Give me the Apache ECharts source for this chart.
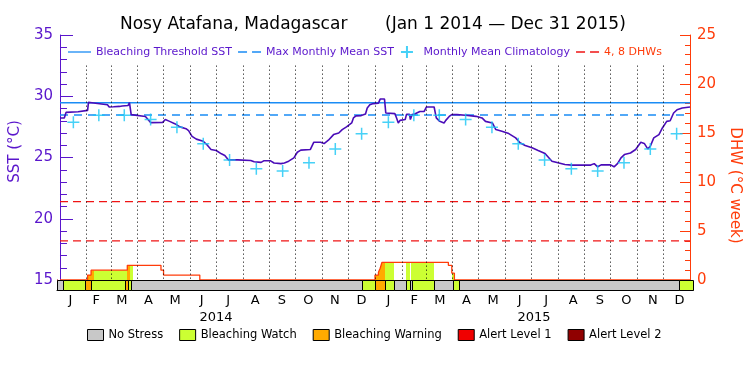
<!DOCTYPE html>
<html>
<head>
<meta charset="utf-8">
<title>Nosy Atafana, Madagascar</title>
<script src="https://cdn.jsdelivr.net/npm/echarts@6/dist/echarts.min.js"></script>
<style>
html, body { margin: 0; padding: 0; background: #fff; }
#main { width: 750px; height: 375px; }
</style>
</head>
<body>
<div id="main"></div>
<script>
// x values are days counted from Jan 1 2014 (day 0) to Dec 31 2015 (day 730)
var monthLetters = ['J', 'F', 'M', 'A', 'M', 'J', 'J', 'A', 'S', 'O', 'N', 'D'];
var monthStarts = [0, 31, 59, 90, 120, 151, 181, 212, 243, 273, 304, 334,
                   365, 396, 424, 455, 485, 516, 546, 577, 608, 638, 669, 699, 730];
var yearLabels = ['2014', '2015'];
var yearCenters = [182.5, 547.5];

// daily SST
var sstDays = [0, 5, 7, 9, 21, 23, 32, 33, 39, 40, 55, 57, 62, 69, 72, 79, 80.5, 82.5, 84, 99,
  101, 105, 107, 119, 122, 127, 133, 139, 146, 149, 153, 158, 166, 170, 175, 181, 187, 191, 195, 206,
  221, 225, 233, 236, 244, 248, 256, 260, 265, 271, 275, 279, 290, 294, 302, 306, 311, 317, 323, 327,
  332, 338, 340, 343, 349, 351, 354, 356, 359, 363, 369, 371, 376, 377.5, 388, 390, 392, 394, 400, 401.5,
  405, 406, 408, 411, 413, 417, 422, 424.5, 433.5, 436, 440, 445, 447, 451, 454, 460, 462, 470, 482, 489,
  493, 501, 505, 512, 520, 528, 533, 539, 547, 554, 562, 570, 577, 585, 593, 615, 619, 623, 627, 638,
  642, 646, 650, 654, 661, 667, 673, 677, 681, 684, 688, 694, 698, 703, 707, 711, 715, 721, 730];
var sstValues = [28.23, 28.23, 28.68, 28.74, 28.74, 28.85, 28.85, 29.50, 29.45, 29.30, 29.30, 29.12, 29.14, 29.17, 29.20, 29.25, 29.48, 28.50, 28.40, 28.35,
  28.23, 27.85, 27.87, 27.87, 28.10, 27.95, 27.76, 27.50, 27.35, 27.20, 26.73, 26.50, 26.33, 26.06, 25.65, 25.57, 25.30, 25.16, 24.81, 24.81,
  24.76, 24.65, 24.60, 24.73, 24.73, 24.55, 24.50, 24.55, 24.70, 24.97, 25.43, 25.60, 25.65, 26.24, 26.24, 26.14, 26.41, 26.87, 27.00, 27.28,
  27.50, 27.82, 28.23, 28.40, 28.42, 28.55, 28.55, 29.04, 29.30, 29.40, 29.44, 29.77, 29.77, 28.63, 28.58, 28.23, 27.82, 28.03, 28.10, 28.52,
  28.52, 28.10, 28.50, 28.55, 28.60, 28.76, 28.76, 29.12, 29.12, 28.23, 27.95, 27.82, 28.03, 28.35, 28.50, 28.50, 28.40, 28.45, 28.36, 28.23,
  27.95, 27.82, 27.28, 27.14, 26.95, 26.60, 26.20, 25.98, 25.79, 25.57, 25.33, 24.70, 24.57, 24.43, 24.38, 24.38, 24.50, 24.24, 24.40, 24.40,
  24.24, 24.50, 24.97, 25.24, 25.37, 25.65, 26.24, 26.15, 25.70, 25.92, 26.60, 26.87, 27.41, 27.95, 28.00, 28.63, 28.90, 29.04, 29.12];

// monthly mean climatology, Jan..Dec
var climatology = [27.87, 28.44, 28.44, 28.10, 27.46, 26.12, 24.80, 24.08, 23.89, 24.57, 25.70, 26.94];
var mmm = 28.47;
var threshold = 29.47;
var dhwLevels = [4, 8];

// degree heating weeks, each value holds until the next day listed
var dhwDays = [0, 32, 36, 78, 117, 120, 162, 365, 369, 371, 373, 450, 454, 457, 730];
var dhwValues = [0, 0.5, 1.0, 1.5, 1.0, 0.5, 0, 0.5, 0.8, 1.2, 1.8, 1.5, 0.7, 0, 0];

var stressNames = ['No Stress', 'Bleaching Watch', 'Bleaching Warning', 'Alert Level 1', 'Alert Level 2'];
var stressColors = ['#c8c8c8', '#ccff33', '#ffaa00', '#f00000', '#900000'];
var stressStart = [0, 7, 32, 39, 78, 81, 85, 350, 365, 377, 387, 401, 405, 407, 433, 454, 461, 714];
var stressEnd   = [7, 32, 39, 78, 81, 85, 350, 365, 377, 387, 401, 405, 407, 433, 454, 461, 714, 730];
var stressLevel = [0, 1, 2, 1, 2, 1, 0, 1, 2, 1, 0, 1, 0, 1, 0, 1, 0, 1];

var purple = '#5a16cc';
var orange = '#ff3c0a';
var dhwRed = '#f01414';
var font = 'DejaVu Sans';
// legend icons: plain line and two dashes
var solidIcon = 'path://M0,0H23V1.3H0Z';
var dashIcon = 'path://M0,0H9V1.3H0ZM14,0H23V1.3H14Z';

var sstData = sstDays.map(function (d, i) { return [d, sstValues[i]]; });
var dhwData = dhwDays.map(function (d, i) { return [d, dhwValues[i]]; });
var climData = [];
var monthMids = [];
for (var i = 0; i < 24; i++) {
    var mid = (monthStarts[i] + monthStarts[i + 1]) / 2;
    monthMids.push(mid);
    climData.push([mid, climatology[i % 12]]);
}
// 4 and 8 DHW reference lines, broken between them
var dhwLevelData = [];
dhwLevels.forEach(function (v, k) {
    if (k > 0) dhwLevelData.push([365, '-']);
    dhwLevelData.push([0, v], [730, v]);
});
var stressData = stressNames.map(function () { return []; });
stressStart.forEach(function (s, i) {
    stressData[stressLevel[i]].push([s, stressEnd[i]]);
});
// colour under the DHW curve follows the stress level (white when no stress)
var fillPieces = stressStart.map(function (s, i) {
    var lv = stressLevel[i];
    return { gte: s, lt: i === stressStart.length - 1 ? 731 : stressEnd[i],
             color: lv === 0 ? 'rgba(255,255,255,0)' : stressColors[lv] };
});
var monthLines = monthStarts.slice(1, 24).map(function (d) {
    return [{ coord: [d, 32.5] }, { coord: [d, 15] }];
});

function renderStress(params, api) {
    var p0 = api.coord([api.value(0), 1]);
    var p1 = api.coord([api.value(1), 0]);
    var x0 = Math.round(p0[0]) + 0.5, x1 = Math.round(p1[0]) + 0.5;
    var y0 = Math.round(p0[1]) + 0.5, y1 = Math.round(p1[1]) + 0.5;
    return {
        type: 'rect',
        shape: { x: x0, y: y0, width: x1 - x0, height: y1 - y0 },
        style: { fill: api.visual('color'), stroke: '#000', lineWidth: 1 }
    };
}

var myChart = echarts.init(document.getElementById('main'));
var stressSeries = stressNames.map(function (name, k) {
    return {
        name: name,
        type: 'custom',
        xAxisIndex: 1,
        yAxisIndex: 2,
        renderItem: renderStress,
        encode: { x: [0, 1] },
        itemStyle: { color: stressColors[k] },
        z: 6,
        silent: true,
        data: stressData[k]
    };
});

myChart.setOption({
    animation: false,
    backgroundColor: '#fff',
    textStyle: { fontFamily: font },
    title: [
        { text: 'Nosy Atafana, Madagascar', left: 115, top: 11,
          textStyle: { fontSize: 17, fontWeight: 'normal', color: '#000' } },
        { text: '(Jan 1 2014 \u2014 Dec 31 2015)', left: 380, top: 11,
          textStyle: { fontSize: 17, fontWeight: 'normal', color: '#000' } }
    ],
    legend: [
        {
            left: 68, top: 45, padding: 0,
            itemGap: 6, itemWidth: 23, itemHeight: 12,
            selectedMode: false,
            textStyle: { color: purple, fontSize: 11 },
            data: [
                { name: 'Bleaching Threshold SST', icon: solidIcon },
                { name: 'Max Monthly Mean SST', icon: dashIcon },
                { name: 'Monthly Mean Climatology' },
                { name: '4, 8 DHWs', icon: dashIcon, textStyle: { color: orange } }
            ]
        },
        {
            left: 87, top: 329, padding: 0,
            itemGap: 16, itemWidth: 16, itemHeight: 11,
            icon: 'rect',
            selectedMode: false,
            itemStyle: { borderColor: '#000', borderWidth: 1 },
            textStyle: { color: '#000', fontSize: 11.5 },
            data: stressNames
        }
    ],
    visualMap: {
        type: 'piecewise',
        show: false,
        seriesIndex: 4,
        dimension: 0,
        pieces: fillPieces,
        outOfRange: { color: 'rgba(255,255,255,0)' }
    },
    grid: [
        { left: 57, right: 57, top: 35, height: 245 },
        { left: 57, right: 57, top: 280, height: 10 }
    ],
    xAxis: [
        {
            gridIndex: 0, type: 'value', min: 0, max: 730, position: 'top',
            axisLine: { lineStyle: { color: '#000', width: 1 } },
            axisTick: { show: false }, axisLabel: { show: false }, splitLine: { show: false }
        },
        {
            gridIndex: 1, type: 'value', min: 0, max: 730, position: 'bottom',
            axisLine: { lineStyle: { color: '#000', width: 1 } },
            axisTick: { show: false }, splitLine: { show: false },
            axisLabel: {
                customValues: monthMids,
                margin: 4,
                color: '#000', fontSize: 13,
                formatter: function (v) {
                    var idx = monthMids.indexOf(v);
                    return monthLetters[idx % 12];
                }
            }
        },
        {
            gridIndex: 1, type: 'value', min: 0, max: 730, position: 'bottom', offset: 17,
            axisLine: { show: false }, axisTick: { show: false }, splitLine: { show: false },
            axisLabel: {
                customValues: yearCenters,
                margin: 4,
                color: '#000', fontSize: 13,
                formatter: function (v) { return yearLabels[yearCenters.indexOf(v)]; }
            }
        }
    ],
    yAxis: [
        {
            gridIndex: 0, type: 'value', min: 15, max: 35, interval: 5, position: 'left',
            name: 'SST (\u00b0C)', nameLocation: 'middle', nameGap: 32,
            nameTextStyle: { color: purple, fontSize: 15, padding: [0, 0, 0, 12] },
            axisLine: { show: true, lineStyle: { color: purple, width: 1 } },
            axisTick: { show: true, inside: true, length: 13, lineStyle: { color: purple } },
            minorTick: { show: true, splitNumber: 5, length: 7, lineStyle: { color: purple } },
            axisLabel: { color: purple, fontSize: 15, margin: 7 },
            splitLine: { show: false }
        },
        {
            gridIndex: 0, type: 'value', min: 0, max: 25, interval: 5, position: 'right',
            name: 'DHW (\u00b0C week)', nameLocation: 'middle', nameGap: 32, nameRotate: -90,
            nameTextStyle: { color: orange, fontSize: 15, padding: [0, 0, 0, 56] },
            axisLine: { show: true, lineStyle: { color: orange, width: 1 } },
            axisTick: { show: true, inside: true, length: 10, lineStyle: { color: orange } },
            minorTick: { show: true, splitNumber: 5, length: 5, lineStyle: { color: orange } },
            axisLabel: { color: orange, fontSize: 15, margin: 7 },
            splitLine: { show: false }
        },
        {
            gridIndex: 1, type: 'value', min: 0, max: 1, position: 'left',
            axisLine: { show: true, lineStyle: { color: purple, width: 1 } },
            axisTick: { show: false }, axisLabel: { show: false }, splitLine: { show: false }
        },
        {
            gridIndex: 1, type: 'value', min: 0, max: 1, position: 'right',
            axisLine: { show: true, lineStyle: { color: orange, width: 1 } },
            axisTick: { show: false }, axisLabel: { show: false }, splitLine: { show: false }
        }
    ],
    series: [
        {
            name: 'Bleaching Threshold SST', type: 'line', symbol: 'none', z: 2,
            color: '#1a8cf5',
            lineStyle: { color: '#1a8cf5', width: 1.3 },
            data: [[0, threshold], [730, threshold]]
        },
        {
            name: 'Max Monthly Mean SST', type: 'line', symbol: 'none', z: 2,
            color: '#1a8cf5',
            lineStyle: { color: '#1a8cf5', width: 1.3, type: [8, 6] },
            data: [[0, mmm], [730, mmm]]
        },
        {
            name: 'Monthly Mean Climatology', type: 'scatter', z: 5,
            symbol: 'path://M0,6H12M6,0V12', symbolSize: 12,
            itemStyle: { color: '#18c6f5', borderColor: '#18c6f5', borderWidth: 1.5 },
            data: climData
        },
        {
            name: '4, 8 DHWs', type: 'line', symbol: 'none', yAxisIndex: 1, z: 2,
            color: dhwRed,
            connectNulls: false,
            lineStyle: { color: dhwRed, width: 1.3, type: [8, 5] },
            data: dhwLevelData
        },
        {
            name: 'DHW fill', type: 'line', step: 'end', symbol: 'none', yAxisIndex: 1, z: 1,
            lineStyle: { width: 0, opacity: 0 },
            areaStyle: { opacity: 1 },
            data: dhwData
        },
        {
            name: 'DHW', type: 'line', step: 'end', symbol: 'none', yAxisIndex: 1, z: 3,
            lineStyle: { color: orange, width: 1.3 },
            data: dhwData
        },
        {
            name: 'SST', type: 'line', symbol: 'none', z: 4,
            lineStyle: { color: '#4a0cb8', width: 1.6 },
            data: sstData,
            markLine: {
                silent: true, symbol: 'none', label: { show: false },
                lineStyle: { color: '#000', width: 1, type: [1, 3] },
                data: monthLines
            }
        }
    ].concat(stressSeries)
});
window.addEventListener('resize', function () {
    myChart.resize();
});
</script>
</body>
</html>
